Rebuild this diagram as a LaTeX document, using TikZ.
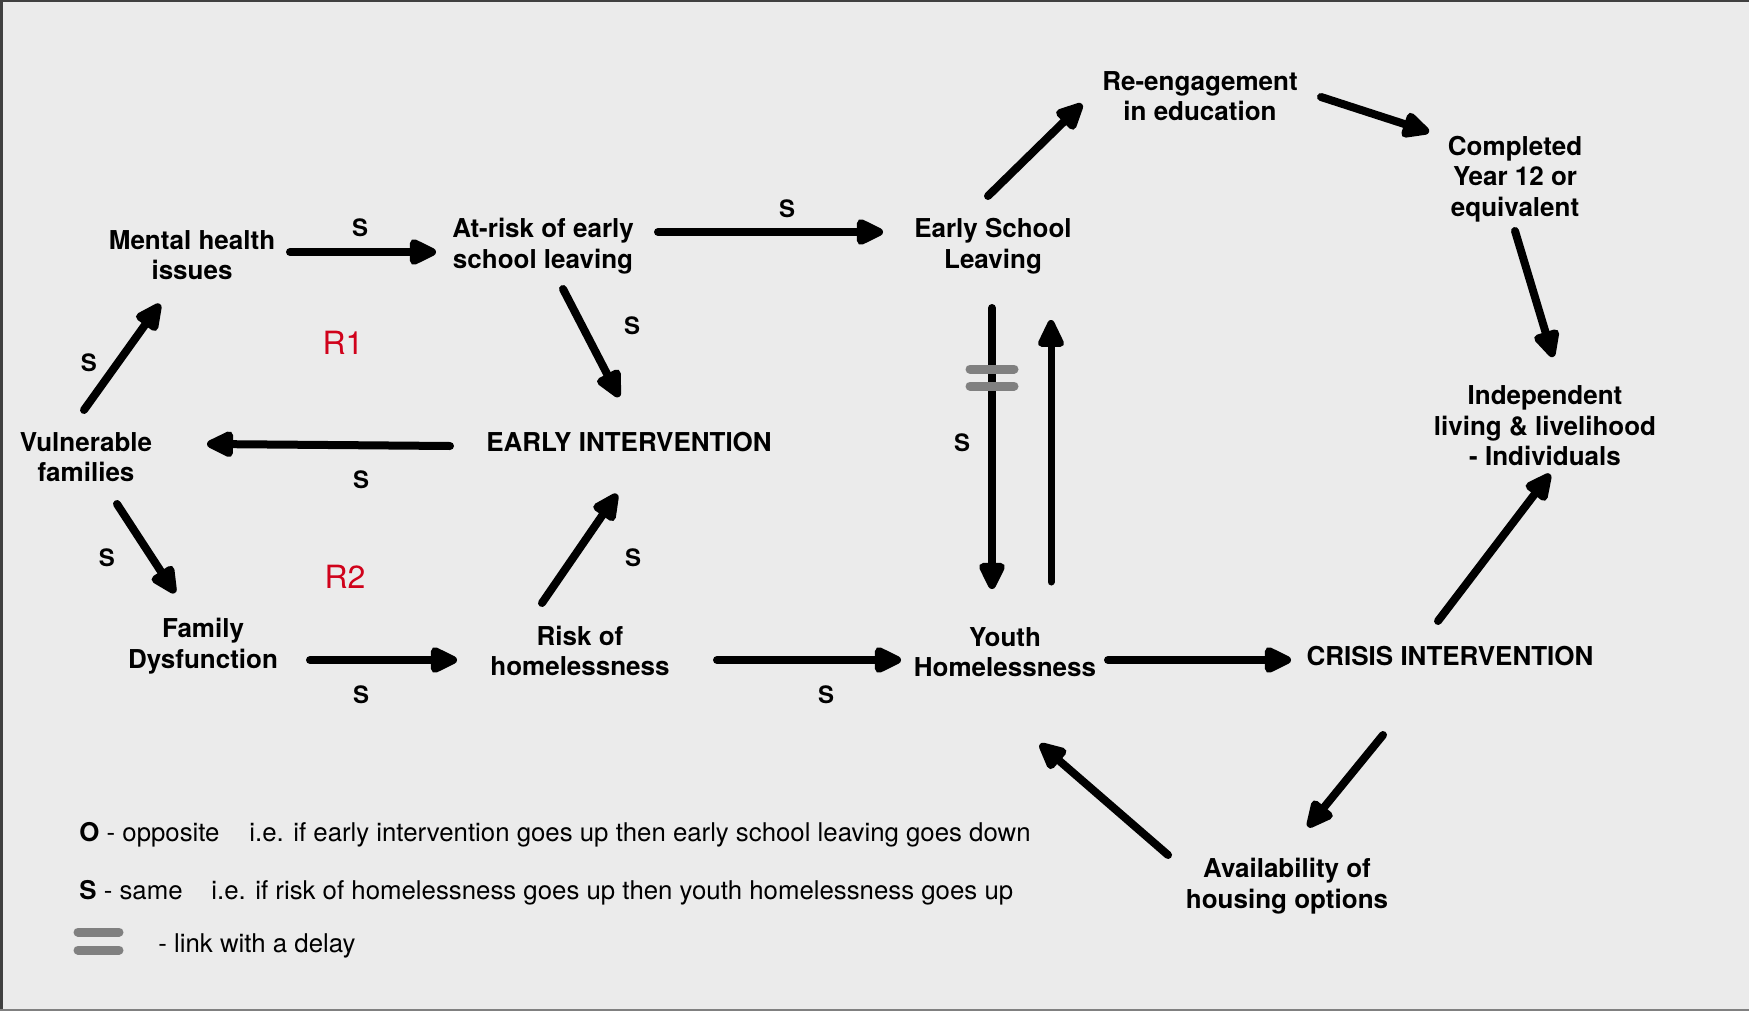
\documentclass[tikz,border=0pt]{standalone}
\usepackage{fontspec}
\setmainfont{TeX Gyre Heros}
\usetikzlibrary{arrows.meta,calc}
\definecolor{bg}{HTML}{EBEBEB}
\definecolor{rloop}{HTML}{D0021B}
\definecolor{delaygray}{HTML}{808080}
\begin{document}
\begin{tikzpicture}[x=0.5pt,y=-0.5pt,
  lbl/.style={font=\fontsize{13}{15.2}\selectfont\bfseries, align=center, inner sep=0pt},
  slabel/.style={font=\fontsize{12}{14}\selectfont\bfseries, inner sep=0pt},
  loopname/.style={font=\fontsize{16}{18}\selectfont, text=rloop, inner sep=0pt},
  legend/.style={font=\fontsize{12.9}{15}\selectfont, inner sep=0pt, anchor=base west},
  arr/.style={line width=4pt, line cap=round, -{Triangle[length=16pt,width=14pt,round]}},
  delaymark/.style={line width=4.5pt, line cap=round, delaygray}
]
\fill[bg] (0,0) rectangle (1749,1011);
\useasboundingbox (0,0) rectangle (1749,1011);
\draw[line width=1.5pt, black!75] (1,1011) -- (1,1) -- (1749,1);
\draw[line width=1.2pt, black!50] (0,1010) -- (1749,1010);

% nodes
\node[lbl] (mh)  at (192,255) {Mental health\\issues};
\node[lbl] (ar)  at (543,246) {At-risk of early\\school leaving};
\node[lbl] (esl) at (993,246) {Early School\\Leaving};
\node[lbl] (re)  at (1200,96) {Re-engagement\\in education};
\node[lbl] (cy)  at (1515,179) {Completed\\Year 12 or\\equivalent};
\node[lbl] (ind) at (1545,426) {Independent\\living \& livelihood\\- Individuals};
\node[lbl] (vf)  at (86,457) {Vulnerable\\families};
\node[lbl] (ei)  at (629,442) {EARLY INTERVENTION};
\node[lbl] (fd)  at (203,646) {Family\\Dysfunction};
\node[lbl] (rh)  at (580,651) {Risk of\\homelessness};
\node[lbl] (yh)  at (1005,652) {Youth\\Homelessness};
\node[lbl] (ci)  at (1450,656) {CRISIS INTERVENTION};
\node[lbl] (av)  at (1287,886) {Availability of\\housing options};

% connectors
\draw[arr] ($(mh)+(98,-3)$)   -- ($(ar)+(-107,6)$);
\draw[arr] ($(ar)+(115,-14)$) -- ($(esl)+(-110,-14)$);
\draw[arr] ($(ar)+(20,43)$)   -- ($(ei)+(-10,-45)$);
\draw[arr] ($(ei)+(-179,4)$)  -- ($(vf)+(121,-13)$);
\draw[arr] ($(vf)+(-2,-47)$)  -- ($(mh)+(-32,49)$);
\draw[arr] ($(vf)+(31,47)$)   -- ($(fd)+(-28,-53)$);
\draw[arr] ($(fd)+(107,14)$)  -- ($(rh)+(-123,9)$);
\draw[arr] ($(rh)+(-38,-48)$) -- ($(ei)+(-12,52)$);
\draw[arr] ($(rh)+(137,9)$)   -- ($(yh)+(-104,8)$);
\draw[arr] ($(esl)+(-1,62)$)  -- ($(yh)+(-13,-63)$);
\draw[arr, line width=3.5pt] ($(yh)+(46,-70)$) -- ($(esl)+(58,74)$);
\draw[arr] ($(esl)+(-5,-50)$) -- ($(re)+(-118,8)$);
\draw[arr] ($(re)+(121,1)$)   -- ($(cy)+(-86,-47)$);
\draw[arr] ($(cy)+(0,52)$)    -- ($(ind)+(8,-69)$);
\draw[arr] ($(ci)+(-12,-35)$) -- ($(ind)+(5,48)$);
\draw[arr] ($(yh)+(103,8)$)   -- ($(ci)+(-159,4)$);
\draw[arr] ($(ci)+(-67,79)$)  -- ($(av)+(21,-59)$);
\draw[arr] ($(av)+(-119,-31)$) -- ($(yh)+(35,92)$);

% delay marks
\draw[delaymark] (970,369) -- (1014,369);
\draw[delaymark] (970,386) -- (1014,386);

% link labels
\node[slabel] (s1)  at (360,228) {S};
\node[slabel] (s2)  at (787,209) {S};
\node[slabel] (s3)  at (632,326) {S};
\node[slabel] (s4)  at (89,363) {S};
\node[slabel] (s5)  at (361,480) {S};
\node[slabel] (s6)  at (107,558) {S};
\node[slabel] (s7)  at (633,558) {S};
\node[slabel] (s8)  at (361,695) {S};
\node[slabel] (s9)  at (826,695) {S};
\node[slabel] (s10) at (962,443) {S};

\node[loopname] (r1) at (343,343) {R1};
\node[loopname] (r2) at (345,577) {R2};

% legend
\node[legend] (lo)  at (79,841) {\textbf{O} - opposite};
\node[legend] (loe) at (249,841) {i.e. if early intervention goes up then early school leaving goes down};
\node[legend] (ls)  at (79,899) {\textbf{S} - same};
\node[legend] (lse) at (211,899) {i.e. if risk of homelessness goes up then youth homelessness goes up};
\draw[delaymark] (78,932) -- (119,932);
\draw[delaymark] (78,950) -- (119,950);
\node[legend] (ld)  at (158,952) {- link with a delay};
\end{tikzpicture}
\end{document}
